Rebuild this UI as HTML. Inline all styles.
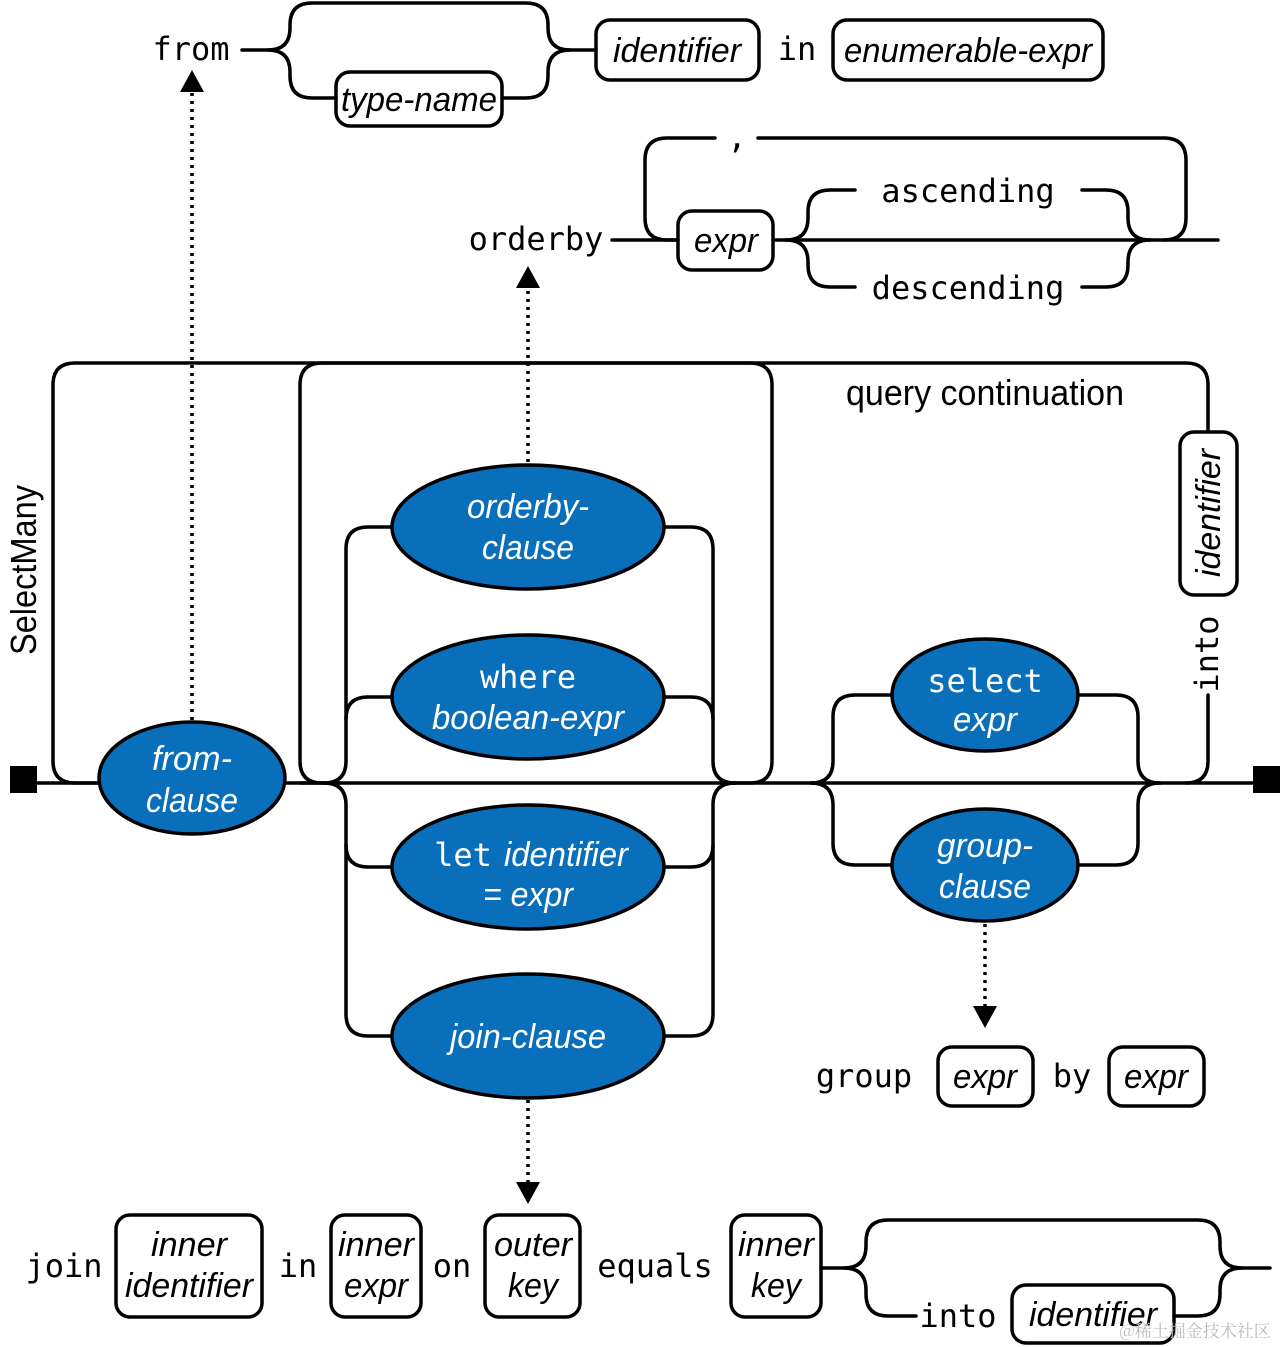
<!DOCTYPE html>
<html><head><meta charset="utf-8"><style>
html,body{margin:0;padding:0;background:#fff}
svg{display:block}
.m{font-family:"DejaVu Sans Mono","Liberation Mono",monospace;font-size:32px;fill:#000}
.i{font-family:"Liberation Sans Narrow","Liberation Sans",sans-serif;font-style:italic;font-size:34px;fill:#000}
.w{fill:#fff}
.n{font-family:"Liberation Sans Narrow","Liberation Sans",sans-serif;font-size:36px;fill:#000}
</style></head><body>
<svg width="1281" height="1347" viewBox="0 0 1281 1347" xmlns="http://www.w3.org/2000/svg">
<g fill="none" stroke="#000" stroke-width="3.5" stroke-linecap="round">
<path d="M37 783 H1253"/>
<path d="M100 783 H75 Q53 783 53 761 V385 Q53 363 75 363 H1186 Q1208 363 1208 385 V432"/>
<path d="M1208 695 V761 Q1208 783 1186 783"/>
<path d="M340 783 H322 Q300 783 300 761 V385 Q300 363 322 363 H750 Q772 363 772 385 V761 Q772 783 750 783 H730"/>
<path d="M300 783 H324 Q346 783 346 761 V549 Q346 527 368 527 H395"/>
<path d="M346 719 Q346 697 368 697 H395"/>
<path d="M324 783 Q346 783 346 805 V1014 Q346 1036 368 1036 H395"/>
<path d="M346 845 Q346 867 368 867 H395"/>
<path d="M662 527 H691 Q713 527 713 549 V761 Q713 783 735 783"/>
<path d="M662 697 H691 Q713 697 713 719"/>
<path d="M735 783 Q713 783 713 805 V1014 Q713 1036 691 1036 H662"/>
<path d="M713 845 Q713 867 691 867 H662"/>
<path d="M811 783 Q833 783 833 761 V717 Q833 695 855 695 H895"/>
<path d="M811 783 Q833 783 833 805 V843 Q833 865 855 865 H895"/>
<path d="M1075 695 H1116 Q1138 695 1138 717 V761 Q1138 783 1160 783"/>
<path d="M1075 865 H1116 Q1138 865 1138 843 V805 Q1138 783 1160 783"/>
<path d="M242 50 H268 Q290 50 290 28 V25 Q290 3 312 3 H526 Q548 3 548 25 V28 Q548 50 570 50 H596"/>
<path d="M268 50 Q290 50 290 72 V76 Q290 98 312 98 H336"/>
<path d="M502 98 H526 Q548 98 548 76 V72 Q548 50 570 50"/>
<path d="M612 240 H678"/>
<path d="M773 240 H1218"/>
<path d="M678 240 H667 Q645 240 645 218 V160 Q645 138 667 138 H715"/>
<path d="M758 138 H1164 Q1186 138 1186 160 V218 Q1186 240 1164 240"/>
<path d="M786 240 Q808 240 808 218 V212 Q808 190 830 190 H855"/>
<path d="M786 240 Q808 240 808 262 V265 Q808 287 830 287 H855"/>
<path d="M1082 190 H1106 Q1128 190 1128 212 V218 Q1128 240 1150 240"/>
<path d="M1082 287 H1106 Q1128 287 1128 265 V262 Q1128 240 1150 240"/>
<path d="M821 1268 H844 Q866 1268 866 1246 V1242 Q866 1220 888 1220 H1198 Q1220 1220 1220 1242 V1246 Q1220 1268 1242 1268 H1270"/>
<path d="M844 1268 Q866 1268 866 1290 V1294 Q866 1316 888 1316 H916"/>
<path d="M1174 1316 H1198 Q1220 1316 1220 1294 V1290 Q1220 1268 1242 1268"/>
<g stroke-dasharray="3 5" stroke-linecap="butt" stroke-width="3.5">
<path d="M192 720 V92"/>
<path d="M528 462 V288"/>
<path d="M985 924 V1008"/>
<path d="M528 1100 V1184"/>
</g>
<rect x="596" y="20" width="163" height="60" rx="14"/>
<rect x="833" y="20" width="270" height="60" rx="14"/>
<rect x="336" y="72" width="166" height="54" rx="14"/>
<rect x="678" y="211" width="95" height="59" rx="14"/>
<rect x="1180" y="432" width="57" height="163" rx="14"/>
<rect x="938" y="1047" width="95" height="59" rx="14"/>
<rect x="1109" y="1047" width="95" height="59" rx="14"/>
<rect x="116" y="1215" width="146" height="102" rx="14"/>
<rect x="331" y="1215" width="90" height="102" rx="14"/>
<rect x="485" y="1215" width="95" height="102" rx="14"/>
<rect x="731" y="1215" width="90" height="102" rx="14"/>
<rect x="1012" y="1285" width="162" height="58" rx="14"/>
</g>
<g fill="#000">
<polygon points="180,92 204,92 192,70"/>
<polygon points="516,288 540,288 528,266"/>
<polygon points="973,1006 997,1006 985,1028"/>
<polygon points="516,1182 540,1182 528,1204"/>
<rect x="10" y="766" width="27" height="27"/>
<rect x="1253" y="766" width="27" height="27"/>
</g>
<g fill="#0a6fba" stroke="#000" stroke-width="3.5">
<ellipse cx="192" cy="778" rx="93" ry="56"/>
<ellipse cx="528" cy="527" rx="136" ry="62"/>
<ellipse cx="528" cy="697" rx="136" ry="62"/>
<ellipse cx="528" cy="867" rx="136" ry="62"/>
<ellipse cx="528" cy="1036" rx="136" ry="62"/>
<ellipse cx="985" cy="695" rx="93" ry="56"/>
<ellipse cx="985" cy="865" rx="93" ry="56"/>
</g>
<g text-anchor="middle">
<text class="m" x="191" y="60">from</text>
<text class="i" x="677" y="62" textLength="128" lengthAdjust="spacingAndGlyphs">identifier</text>
<text class="m" x="797" y="60">in</text>
<text class="i" x="968" y="62" textLength="248" lengthAdjust="spacingAndGlyphs">enumerable-expr</text>
<text class="i" x="419" y="111" textLength="156" lengthAdjust="spacingAndGlyphs">type-name</text>
<text class="m" x="536" y="250">orderby</text>
<text class="i" x="726" y="252" textLength="64" lengthAdjust="spacingAndGlyphs">expr</text>
<text class="m" x="737" y="148">,</text>
<text class="m" x="968" y="202">ascending</text>
<text class="m" x="968" y="299">descending</text>
<text class="n" x="985" y="405" textLength="278" lengthAdjust="spacingAndGlyphs">query continuation</text>
<text class="n" transform="translate(36,570) rotate(-90)" textLength="170" lengthAdjust="spacingAndGlyphs">SelectMany</text>
<text class="i" transform="translate(1220,513) rotate(-90)" textLength="128" lengthAdjust="spacingAndGlyphs">identifier</text>
<text class="m" transform="translate(1218,654) rotate(-90)">into</text>
<text class="i w" x="192" y="770" textLength="80" lengthAdjust="spacingAndGlyphs">from-</text>
<text class="i w" x="192" y="812" textLength="92" lengthAdjust="spacingAndGlyphs">clause</text>
<text class="i w" x="528" y="518" textLength="122" lengthAdjust="spacingAndGlyphs">orderby-</text>
<text class="i w" x="528" y="559" textLength="92" lengthAdjust="spacingAndGlyphs">clause</text>
<text class="m w" x="528" y="688">where</text>
<text class="i w" x="528" y="729" textLength="192" lengthAdjust="spacingAndGlyphs">boolean-expr</text>
<text class="m w" x="463" y="866" text-anchor="middle">let</text>
<text class="i w" x="566" y="866" textLength="124" lengthAdjust="spacingAndGlyphs">identifier</text>
<text class="i w" x="528" y="906" textLength="90" lengthAdjust="spacingAndGlyphs">= expr</text>
<text class="i w" x="528" y="1048" textLength="156" lengthAdjust="spacingAndGlyphs">join-clause</text>
<text class="m w" x="985" y="692">select</text>
<text class="i w" x="985" y="731" textLength="64" lengthAdjust="spacingAndGlyphs">expr</text>
<text class="i w" x="985" y="857" textLength="96" lengthAdjust="spacingAndGlyphs">group-</text>
<text class="i w" x="985" y="898" textLength="92" lengthAdjust="spacingAndGlyphs">clause</text>
<text class="m" x="864" y="1087">group</text>
<text class="i" x="985" y="1088" textLength="64" lengthAdjust="spacingAndGlyphs">expr</text>
<text class="m" x="1072" y="1087">by</text>
<text class="i" x="1156" y="1088" textLength="64" lengthAdjust="spacingAndGlyphs">expr</text>
<text class="m" x="64" y="1277">join</text>
<text class="i" x="189" y="1256" textLength="76" lengthAdjust="spacingAndGlyphs">inner</text>
<text class="i" x="189" y="1297" textLength="128" lengthAdjust="spacingAndGlyphs">identifier</text>
<text class="m" x="298" y="1277">in</text>
<text class="i" x="376" y="1256" textLength="76" lengthAdjust="spacingAndGlyphs">inner</text>
<text class="i" x="376" y="1297" textLength="64" lengthAdjust="spacingAndGlyphs">expr</text>
<text class="m" x="452" y="1277">on</text>
<text class="i" x="533" y="1256" textLength="78" lengthAdjust="spacingAndGlyphs">outer</text>
<text class="i" x="533" y="1297" textLength="50" lengthAdjust="spacingAndGlyphs">key</text>
<text class="m" x="655" y="1277">equals</text>
<text class="i" x="776" y="1256" textLength="76" lengthAdjust="spacingAndGlyphs">inner</text>
<text class="i" x="776" y="1297" textLength="50" lengthAdjust="spacingAndGlyphs">key</text>
<text class="m" x="958" y="1327">into</text>
<text class="i" x="1093" y="1326" textLength="128" lengthAdjust="spacingAndGlyphs">identifier</text>
<text x="1195" y="1337" font-family="Noto Serif CJK SC, serif" font-size="17" fill="#bbb">@稀土掘金技术社区</text>
</g>
</svg>
</body></html>
